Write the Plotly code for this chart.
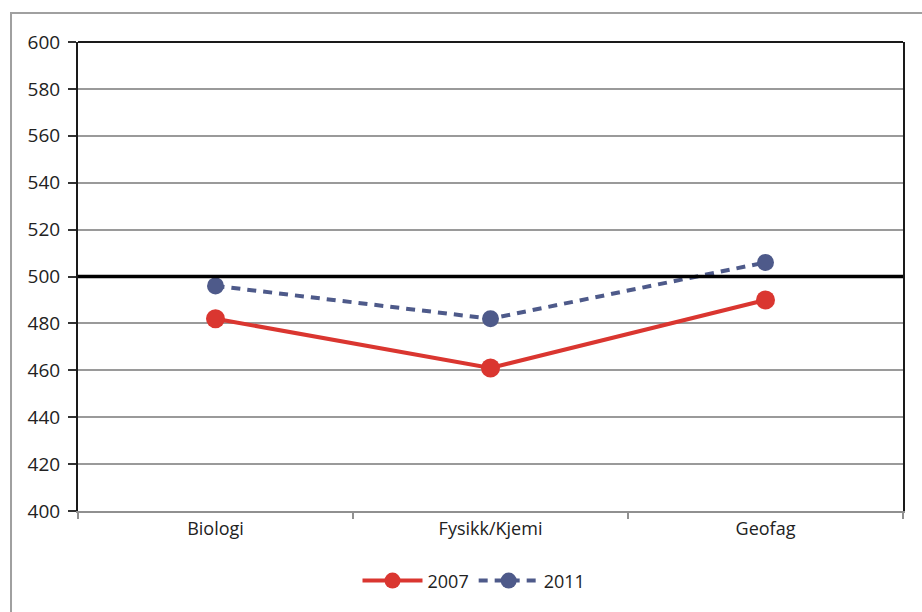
import plotly.graph_objects as go

# Categories and scores
categories = ["Biologi", "Fysikk/Kjemi", "Geofag"]
scores_2007 = [482, 461, 490]
scores_2011 = [496, 482, 506]
y_ticks = [400, 420, 440, 460, 480, 500, 520, 540, 560, 580, 600]
reference_level = 500

RED = "#DA3630"
BLUE = "#4E5A8A"
FONT = "Open Sans, Noto Sans, sans-serif"

fig = go.Figure()

fig.add_trace(go.Scatter(
    x=categories, y=scores_2007, name="2007", mode="lines+markers",
    line=dict(color=RED, width=4),
    marker=dict(color=RED, size=19),
))
fig.add_trace(go.Scatter(
    x=categories, y=scores_2011, name="2011", mode="lines+markers",
    line=dict(color=BLUE, width=4, dash="9px,7px"),
    marker=dict(color=BLUE, size=17),
))

shapes = [
    # outer chart frame
    dict(type="rect", xref="paper", yref="paper",
         x0=-0.0812, x1=1.03, y0=-0.3, y1=1.0618,
         line=dict(color="#A0A0A0", width=2), layer="below"),
    # top border of plot area
    dict(type="line", xref="paper", yref="paper", x0=0, x1=1, y0=1, y1=1,
         line=dict(color="#1a1a1a", width=2)),
    # reference line at the international mean
    dict(type="line", xref="paper", yref="y", x0=0, x1=1,
         y0=reference_level, y1=reference_level,
         line=dict(color="#000000", width=3.5), layer="above"),
]

fig.update_layout(
    width=922, height=612,
    margin=dict(l=78, r=19, t=42, b=101),
    paper_bgcolor="white", plot_bgcolor="white",
    font=dict(family=FONT, size=19, color="#222222"),
    showlegend=True,
    legend=dict(orientation="h", x=0.48, xanchor="center",
                y=-0.149, yanchor="middle",
                font=dict(size=18), itemwidth=60),
    shapes=shapes,
    xaxis=dict(
        type="category", tickson="boundaries", range=[-0.5, 2.5],
        ticks="outside", ticklen=6, tickcolor="#909090", tickwidth=1.5,
        showgrid=False, showline=True, linecolor="#909090", linewidth=2,
        zeroline=False, fixedrange=True,
        tickfont=dict(size=18),
    ),
    yaxis=dict(
        range=[400, 600], tickvals=y_ticks,
        ticks="outside", ticklen=8, tickcolor="#333333", tickwidth=1.5,
        showgrid=True, gridcolor="#9a9a9a", gridwidth=1.5,
        showline=True, linecolor="#1a1a1a", linewidth=2, mirror=True,
        zeroline=False, ticklabelstandoff=4,
        tickfont=dict(size=19),
    ),
)

fig.write_html("out.html")
